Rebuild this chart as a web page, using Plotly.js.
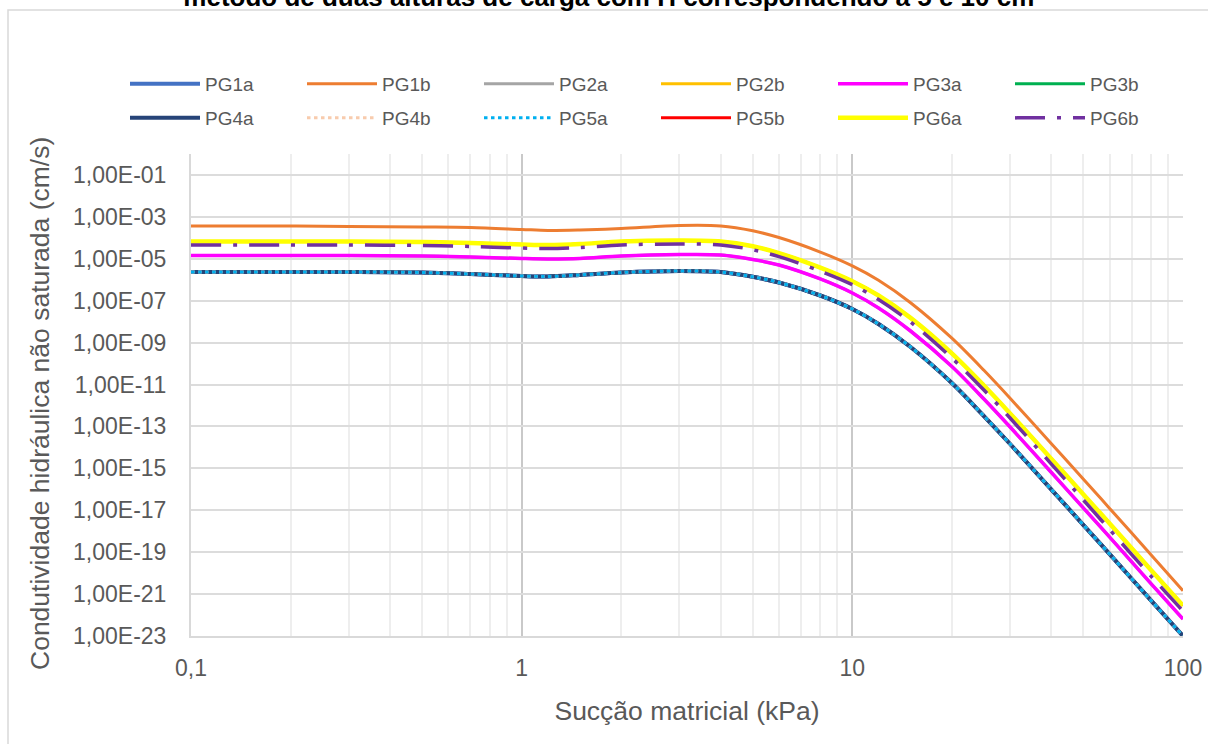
<!DOCTYPE html>
<html>
<head>
<meta charset="utf-8">
<script src="https://cdn.plot.ly/plotly-3.0.1.min.js"></script>
<style>
  html, body { margin: 0; padding: 0; background: #ffffff; }
  #chart { width: 1208px; height: 744px; }
</style>
</head>
<body>
<div id="chart"></div>
<script>
// Suction (kPa)
const suction = [0.1, 0.2, 0.3, 0.5, 0.7, 1, 1.2, 1.5, 2, 3, 4, 5, 6, 8, 10, 12, 15, 20, 25, 30, 40, 50, 60, 80, 100];

// Unsaturated hydraulic conductivity (cm/s)
const pg1a = [2.34e-6, 2.34e-6, 2.34e-6, 2.22e-6, 1.88e-6, 1.51e-6, 1.43e-6, 1.69e-6, 2.22e-6, 2.62e-6, 2.34e-6, 1.38e-6, 7.40e-7, 1.77e-7, 4.02e-8, 7.73e-9, 6.17e-10, 1.18e-11, 3.13e-13, 1.45e-14, 9.73e-17, 1.97e-18, 8.11e-20, 5.00e-22, 1.0e-23];
const pg1b = [3.68e-4, 3.68e-4, 3.48e-4, 3.30e-4, 3.12e-4, 2.51e-4, 2.24e-4, 2.37e-4, 2.79e-4, 3.88e-4, 3.68e-4, 2.17e-4, 1.03e-4, 2.09e-5, 4.58e-6, 9.42e-7, 8.02e-8, 1.62e-9, 4.76e-11, 2.22e-12, 1.49e-14, 3.02e-16, 1.23e-17, 7.60e-20, 1.45e-21];
const pg2a = [1.44e-5, 1.44e-5, 1.44e-5, 1.36e-5, 1.22e-5, 1.03e-5, 9.78e-6, 1.03e-5, 1.36e-5, 1.60e-5, 1.52e-5, 9.27e-6, 5.06e-6, 1.09e-6, 2.33e-7, 4.49e-8, 3.58e-9, 7.23e-11, 2.03e-12, 9.35e-14, 6.31e-16, 1.27e-17, 5.26e-19, 3.17e-21, 6.41e-23];
const pg2b = [6.70e-5, 6.70e-5, 6.70e-5, 6.34e-5, 5.68e-5, 4.82e-5, 4.56e-5, 5.08e-5, 6.70e-5, 7.47e-5, 6.70e-5, 3.95e-5, 1.87e-5, 3.80e-6, 8.53e-7, 1.77e-7, 1.51e-8, 3.05e-10, 8.95e-12, 4.18e-13, 2.81e-15, 5.68e-17, 2.32e-18, 1.43e-20, 2.82e-22];
const pg3a = [1.44e-5, 1.44e-5, 1.44e-5, 1.36e-5, 1.22e-5, 1.03e-5, 9.78e-6, 1.03e-5, 1.36e-5, 1.60e-5, 1.52e-5, 9.27e-6, 5.06e-6, 1.09e-6, 2.33e-7, 4.49e-8, 3.58e-9, 7.23e-11, 2.03e-12, 9.35e-14, 6.31e-16, 1.27e-17, 5.26e-19, 3.17e-21, 6.41e-23];
const pg3b = [2.34e-6, 2.34e-6, 2.34e-6, 2.22e-6, 1.88e-6, 1.51e-6, 1.43e-6, 1.69e-6, 2.22e-6, 2.62e-6, 2.34e-6, 1.38e-6, 7.40e-7, 1.77e-7, 4.02e-8, 7.73e-9, 6.17e-10, 1.18e-11, 3.13e-13, 1.45e-14, 9.73e-17, 1.97e-18, 8.11e-20, 5.00e-22, 1.0e-23];
const pg4a = [2.34e-6, 2.34e-6, 2.34e-6, 2.22e-6, 1.88e-6, 1.51e-6, 1.43e-6, 1.69e-6, 2.22e-6, 2.62e-6, 2.34e-6, 1.38e-6, 7.40e-7, 1.77e-7, 4.02e-8, 7.73e-9, 6.17e-10, 1.18e-11, 3.13e-13, 1.45e-14, 9.73e-17, 1.97e-18, 8.11e-20, 5.00e-22, 1.0e-23];
const pg4b = [2.34e-6, 2.34e-6, 2.34e-6, 2.22e-6, 1.88e-6, 1.51e-6, 1.43e-6, 1.69e-6, 2.22e-6, 2.62e-6, 2.34e-6, 1.38e-6, 7.40e-7, 1.77e-7, 4.02e-8, 7.73e-9, 6.17e-10, 1.18e-11, 3.13e-13, 1.45e-14, 9.73e-17, 1.97e-18, 8.11e-20, 5.00e-22, 1.0e-23];
const pg5a = [2.34e-6, 2.34e-6, 2.34e-6, 2.22e-6, 1.88e-6, 1.51e-6, 1.43e-6, 1.69e-6, 2.22e-6, 2.62e-6, 2.34e-6, 1.38e-6, 7.40e-7, 1.77e-7, 4.02e-8, 7.73e-9, 6.17e-10, 1.18e-11, 3.13e-13, 1.45e-14, 9.73e-17, 1.97e-18, 8.11e-20, 5.00e-22, 1.0e-23];
const pg5b = [6.70e-5, 6.70e-5, 6.70e-5, 6.34e-5, 5.68e-5, 4.82e-5, 4.56e-5, 5.08e-5, 6.70e-5, 7.47e-5, 6.70e-5, 3.95e-5, 1.87e-5, 3.80e-6, 8.53e-7, 1.77e-7, 1.51e-8, 3.05e-10, 8.95e-12, 4.18e-13, 2.81e-15, 5.68e-17, 2.32e-18, 1.43e-20, 2.82e-22];
const pg6a = [6.70e-5, 6.70e-5, 6.70e-5, 6.34e-5, 5.68e-5, 4.82e-5, 4.56e-5, 5.08e-5, 6.70e-5, 7.47e-5, 6.70e-5, 3.95e-5, 1.87e-5, 3.80e-6, 8.53e-7, 1.77e-7, 1.51e-8, 3.05e-10, 8.95e-12, 4.18e-13, 2.81e-15, 5.68e-17, 2.32e-18, 1.43e-20, 2.82e-22];
const pg6b = [4.56e-5, 4.56e-5, 4.56e-5, 4.31e-5, 3.86e-5, 3.27e-5, 3.10e-5, 3.46e-5, 4.56e-5, 5.08e-5, 4.56e-5, 2.69e-5, 1.27e-5, 2.59e-6, 5.81e-7, 1.14e-7, 9.62e-9, 1.84e-10, 5.46e-12, 2.52e-13, 1.60e-15, 3.07e-17, 1.20e-18, 7.23e-21, 1.55e-22];

const seriesNames = ['PG1a', 'PG1b', 'PG2a', 'PG2b', 'PG3a', 'PG3b', 'PG4a', 'PG4b', 'PG5a', 'PG5b', 'PG6a', 'PG6b'];
const seriesValues = [pg1a, pg1b, pg2a, pg2b, pg3a, pg3b, pg4a, pg4b, pg5a, pg5b, pg6a, pg6b];

// Axis tick labels
const xTickVals = [0.1, 1, 10, 100];
const xTickText = ['0,1', '1', '10', '100'];
const yTickVals = [1e-1, 1e-3, 1e-5, 1e-7, 1e-9, 1e-11, 1e-13, 1e-15, 1e-17, 1e-19, 1e-21, 1e-23];
const yTickText = ['1,00E-01', '1,00E-03', '1,00E-05', '1,00E-07', '1,00E-09', '1,00E-11', '1,00E-13', '1,00E-15', '1,00E-17', '1,00E-19', '1,00E-21', '1,00E-23'];

// Styles
const styles = [
  {color: '#4472C4', width: 4, dash: 'solid'},
  {color: '#ED7D31', width: 3, dash: 'solid'},
  {color: '#A5A5A5', width: 3, dash: 'solid'},
  {color: '#FFC000', width: 3, dash: 'solid'},
  {color: '#FF00FF', width: 3.5, dash: 'solid'},
  {color: '#00B050', width: 3, dash: 'solid'},
  {color: '#264478', width: 4, dash: 'solid'},
  {color: '#F8CBAD', width: 3, dash: '3.5px,3.5px'},
  {color: '#00B0F0', width: 3, dash: '3.5px,3.5px'},
  {color: '#FF0000', width: 3, dash: 'solid'},
  {color: '#FFFF00', width: 4.5, dash: 'solid'},
  {color: '#7030A0', width: 3.5, dash: '30px,12px,4px,12px'}
];

const traces = seriesNames.map((name, i) => ({
  type: 'scatter',
  mode: 'lines',
  name: name,
  x: suction,
  y: seriesValues[i],
  line: {color: styles[i].color, width: styles[i].width, dash: styles[i].dash, shape: 'spline', smoothing: 0.9},
  legend: i < 6 ? 'legend' : 'legend2',
  hoverinfo: 'x+y+name'
}));

const gray = '#595959';
const legendFont = {family: '"Liberation Sans", Arial, sans-serif', size: 19, color: gray};

const layout = {
  width: 1208,
  height: 744,
  paper_bgcolor: '#ffffff',
  plot_bgcolor: '#ffffff',
  margin: {l: 191, r: 25, t: 154, b: 108, pad: 0, autoexpand: false},
  showlegend: true,
  title: {
    text: 'método de duas alturas de carga com H correspondendo a 5 e 10 cm',
    font: {family: '"Liberation Sans", Arial, sans-serif', size: 26, color: '#000000', weight: 'bold'},
    xref: 'container', yref: 'container',
    x: 0.504, xanchor: 'center',
    y: 0.9913, yanchor: 'bottom'
  },
  xaxis: {
    type: 'log',
    range: [-1, 2],
    tickmode: 'array',
    tickvals: xTickVals,
    ticktext: xTickText,
    ticks: '',
    ticklabelstandoff: 10,
    tickfont: {family: '"Liberation Sans", Arial, sans-serif', size: 23, color: gray},
    showgrid: true,
    gridcolor: '#c9c9c9',
    gridwidth: 2,
    showline: true,
    linecolor: '#d9d9d9',
    linewidth: 2,
    zeroline: false,
    minor: {dtick: 'D1', showgrid: true, gridcolor: '#eeeeee', gridwidth: 2, ticks: ''},
    title: {
      text: 'Sucção matricial (kPa)',
      font: {family: '"Liberation Sans", Arial, sans-serif', size: 26.5, color: gray},
      standoff: 22
    }
  },
  yaxis: {
    type: 'log',
    range: [-23, 0],
    tickmode: 'array',
    tickvals: yTickVals,
    ticktext: yTickText,
    ticks: '',
    ticklabelstandoff: 18,
    tickfont: {family: '"Liberation Sans", Arial, sans-serif', size: 23, color: gray},
    showgrid: true,
    gridcolor: '#dcdcdc',
    gridwidth: 2,
    showline: true,
    linecolor: '#d9d9d9',
    linewidth: 2,
    zeroline: false
  },
  annotations: [{
    text: 'Condutividade hidráulica não saturada (cm/s)',
    textangle: -90,
    xref: 'paper', yref: 'paper',
    x: (40 - 191) / 992, y: (636 - 404) / 482,
    xanchor: 'center', yanchor: 'middle',
    showarrow: false,
    font: {family: '"Liberation Sans", Arial, sans-serif', size: 26.5, color: gray}
  }],
  legend: {
    orientation: 'h',
    xref: 'paper', yref: 'paper',
    x: (125 - 191) / 992, xanchor: 'left',
    y: (636 - 84) / 482, yanchor: 'middle',
    entrywidth: 92,
    itemwidth: 70,
    font: legendFont,
    bgcolor: 'rgba(0,0,0,0)',
    borderwidth: 0
  },
  legend2: {
    orientation: 'h',
    xref: 'paper', yref: 'paper',
    x: (125 - 191) / 992, xanchor: 'left',
    y: (636 - 118) / 482, yanchor: 'middle',
    entrywidth: 92,
    itemwidth: 70,
    font: legendFont,
    bgcolor: 'rgba(0,0,0,0)',
    borderwidth: 0
  },
  shapes: [{
    type: 'rect',
    xref: 'paper', yref: 'paper',
    x0: (8 - 191) / 992, x1: (1230 - 191) / 992,
    y0: (636 - 770) / 482, y1: (636 - 10) / 482,
    line: {color: '#d9d9d9', width: 1.5},
    fillcolor: 'rgba(0,0,0,0)',
    layer: 'below'
  }]
};

Plotly.newPlot('chart', traces, layout, {displayModeBar: false, responsive: false});
</script>
</body>
</html>
